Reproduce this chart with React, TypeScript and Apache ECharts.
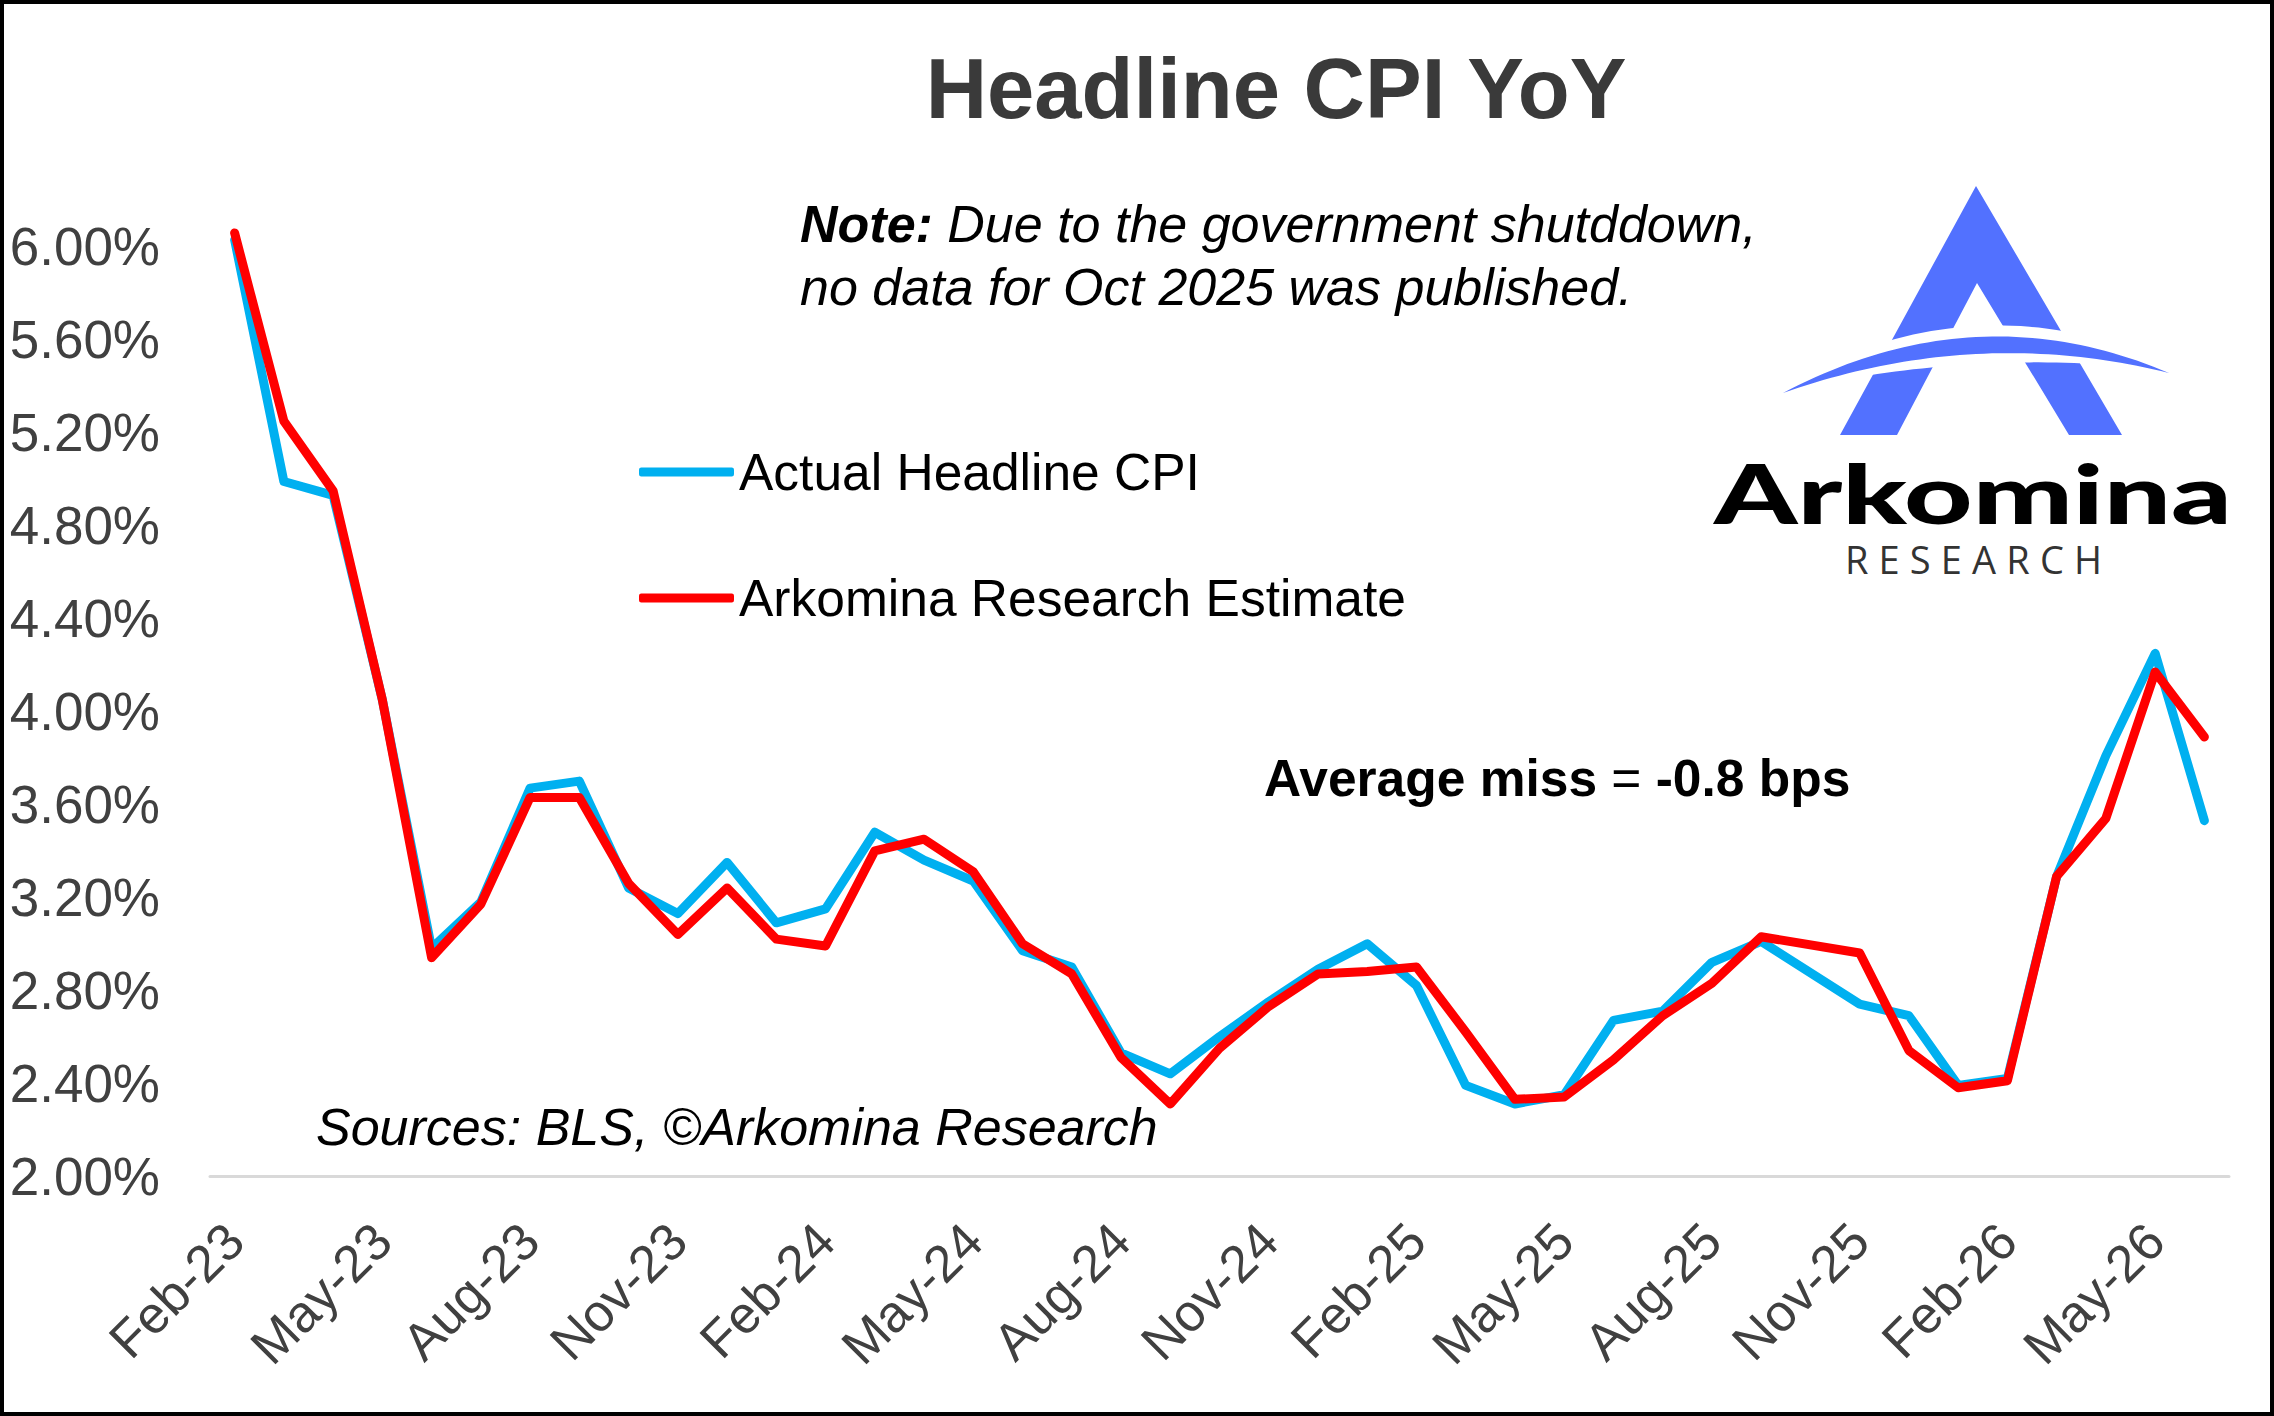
import React, { useEffect, useRef } from 'react';
import * as echarts from 'echarts';

const categories = [
    'Feb-23', 'Mar-23', 'Apr-23', 'May-23', 'Jun-23', 'Jul-23', 'Aug-23', 'Sep-23', 'Oct-23', 'Nov-23', 'Dec-23',
    'Jan-24', 'Feb-24', 'Mar-24', 'Apr-24', 'May-24', 'Jun-24', 'Jul-24', 'Aug-24', 'Sep-24', 'Oct-24', 'Nov-24', 'Dec-24',
    'Jan-25', 'Feb-25', 'Mar-25', 'Apr-25', 'May-25', 'Jun-25', 'Jul-25', 'Aug-25', 'Sep-25', 'Oct-25', 'Nov-25', 'Dec-25',
    'Jan-26', 'Feb-26', 'Mar-26', 'Apr-26', 'May-26', 'Jun-26'
];

// Oct-25 was never published (shutdown), so it is null and the line bridges it
const actualCpi = [
    6.03, 4.99, 4.93, 4.05, 2.98, 3.18, 3.67, 3.70, 3.24, 3.13, 3.35,
    3.09, 3.15, 3.48, 3.36, 3.27, 2.97, 2.90, 2.53, 2.44, 2.60, 2.75, 2.89,
    3.00, 2.82, 2.39, 2.31, 2.35, 2.67, 2.71, 2.92, 3.01, null, 2.74, 2.69,
    2.39, 2.42, 3.29, 3.81, 4.25, 3.53
];

const estimateCpi = [
    6.06, 5.25, 4.95, 4.05, 2.94, 3.17, 3.63, 3.63, 3.26, 3.04, 3.24,
    3.02, 2.99, 3.40, 3.45, 3.31, 3.00, 2.87, 2.51, 2.31, 2.55, 2.73, 2.87,
    2.88, 2.90, 2.62, 2.33, 2.34, 2.50, 2.69, 2.83, 3.03, null, 2.96, 2.54,
    2.38, 2.41, 3.29, 3.54, 4.17, 3.89
];

const seriesNames = ['Actual Headline CPI', 'Arkomina Research Estimate'];
const seriesColors = ['#00B0F0', '#FF0000'];

const FONT = '"Liberation Sans", Arial, Helvetica, sans-serif';
const LOGO_BLUE = '#5271FF';

const measure = (font: string, text: string) => {
    const ctx = document.createElement('canvas').getContext('2d');
    if (!ctx) return text.length * 40;
    ctx.font = font;
    return ctx.measureText(text).width;
};

// crescent between two quadratic curves sharing the tips
const crescent = (l: number[], r: number[], midX: number, topY: number, botY: number) => {
    const baseY = (l[1] + r[1]) / 2;
    const baseX = (l[0] + r[0]) / 2;
    const q = (t: number, cx: number, cy: number) => [
        (1 - t) * (1 - t) * l[0] + 2 * (1 - t) * t * cx + t * t * r[0],
        (1 - t) * (1 - t) * l[1] + 2 * (1 - t) * t * cy + t * t * r[1]
    ];
    const topC = [2 * midX - baseX, 2 * topY - baseY];
    const botC = [2 * midX - baseX, 2 * botY - baseY];
    const pts: number[][] = [];
    for (let i = 0; i <= 48; i++) pts.push(q(i / 48, topC[0], topC[1]));
    for (let i = 48; i >= 0; i--) pts.push(q(i / 48, botC[0], botC[1]));
    return pts;
};

const buildLogo = () => {
    const items: any[] = [];
    items.push({
        type: 'polygon',
        z: 10,
        shape: {
            points: [[1976, 186], [2122, 435], [2069, 435], [1977, 283], [1897, 435], [1840, 435]]
        },
        style: { fill: LOGO_BLUE }
    });
    items.push({
        type: 'polygon',
        z: 11,
        shape: { points: crescent([1760, 398], [2190, 374], 1976, 326, 364) },
        style: { fill: '#ffffff' }
    });
    items.push({
        type: 'polygon',
        z: 12,
        shape: { points: crescent([1783, 393], [2169, 373], 1976, 337, 354) },
        style: { fill: LOGO_BLUE }
    });

    const wordFont = '900 82px Lato';
    const wordW = measure(wordFont, 'Arkomina');
    items.push({
        type: 'text',
        z: 12,
        x: 1973,
        y: 492,
        scaleX: 518 / wordW,
        style: {
            text: 'Arkomina',
            font: wordFont,
            fill: '#000000',
            align: 'center',
            verticalAlign: 'middle'
        }
    });

    const subFont = '38px "Open Sans"';
    const sub = 'RESEARCH';
    const widths = sub.split('').map(ch => measure(subFont, ch));
    const total = widths.reduce((a, b) => a + b, 0);
    const gap = (257 - total) / (sub.length - 1);
    let cx = 1845;
    sub.split('').forEach((ch, i) => {
        items.push({
            type: 'text',
            z: 12,
            x: cx,
            y: 559,
            style: {
                text: ch,
                font: subFont,
                fill: '#333333',
                align: 'left',
                verticalAlign: 'middle'
            }
        });
        cx += widths[i] + gap;
    });
    return items;
};

export default function App() {
    const chartRef = useRef<HTMLDivElement>(null);

    useEffect(() => {
        document.body.style.margin = '0';
        if (!chartRef.current) return;

        const chart = echarts.init(chartRef.current, undefined, { renderer: 'svg' });

        const option = {
            animation: false,
            backgroundColor: '#ffffff',
            title: {
                text: 'Headline CPI YoY',
                left: 1271,
                top: 33,
                textAlign: 'center',
                textStyle: {
                    fontFamily: FONT,
                    fontSize: 85,
                    fontWeight: 'bold',
                    color: '#3A3A3A',
                    lineHeight: 100
                }
            },
            legend: {
                data: seriesNames,
                orient: 'vertical',
                left: 634,
                top: 437,
                icon: 'roundRect',
                itemWidth: 95,
                itemHeight: 9,
                itemGap: 66,
                textStyle: {
                    fontFamily: FONT,
                    fontSize: 51.5,
                    color: '#000000',
                    lineHeight: 60
                }
            },
            grid: {
                left: 210,
                right: 45,
                top: 154,
                bottom: 240
            },
            xAxis: {
                type: 'category',
                data: categories,
                boundaryGap: true,
                axisLine: { lineStyle: { color: '#D9D9D9', width: 3 } },
                axisTick: { show: false },
                axisLabel: {
                    interval: 2,
                    rotate: 45,
                    fontFamily: FONT,
                    fontSize: 52,
                    color: '#404040',
                    margin: 56
                }
            },
            yAxis: {
                type: 'value',
                min: 2,
                max: 6.4,
                interval: 0.4,
                axisLine: { show: false },
                axisTick: { show: false },
                splitLine: { show: false },
                axisLabel: {
                    formatter: (value: number) => value.toFixed(2) + '%',
                    showMaxLabel: false,
                    fontFamily: FONT,
                    fontSize: 53,
                    color: '#404040',
                    margin: 50
                }
            },
            series: [
                {
                    name: seriesNames[0],
                    type: 'line',
                    data: actualCpi,
                    connectNulls: true,
                    symbol: 'none',
                    z: 2,
                    itemStyle: { color: seriesColors[0] },
                    lineStyle: { color: seriesColors[0], width: 9, cap: 'round', join: 'round' }
                },
                {
                    name: seriesNames[1],
                    type: 'line',
                    data: estimateCpi,
                    connectNulls: true,
                    symbol: 'none',
                    z: 3,
                    itemStyle: { color: seriesColors[1] },
                    lineStyle: { color: seriesColors[1], width: 9, cap: 'round', join: 'round' }
                }
            ],
            graphic: [
                {
                    type: 'rect',
                    z: 100,
                    shape: { x: 2, y: 2, width: 2270, height: 1412 },
                    style: { fill: 'none', stroke: '#000000', lineWidth: 4 }
                },
                {
                    type: 'text',
                    x: 800,
                    y: 192,
                    style: {
                        text: '{b|Note:}{i| Due to the government shutddown,}\n{i|no data for Oct 2025 was published.}',
                        align: 'left',
                        verticalAlign: 'top',
                        rich: {
                            b: { fontFamily: FONT, fontSize: 52, fontWeight: 'bold', fontStyle: 'italic', fill: '#000', lineHeight: 63 },
                            i: { fontFamily: FONT, fontSize: 52, fontStyle: 'italic', fill: '#000', lineHeight: 63 }
                        }
                    }
                },
                {
                    type: 'text',
                    x: 1264,
                    y: 778,
                    style: {
                        text: '{b|Average miss }{r|= }{b|-0.8 bps}',
                        align: 'left',
                        verticalAlign: 'middle',
                        rich: {
                            b: { fontFamily: FONT, fontSize: 51.5, fontWeight: 'bold', fill: '#000' },
                            r: { fontFamily: FONT, fontSize: 51.5, fill: '#000' }
                        }
                    }
                },
                {
                    type: 'text',
                    x: 316,
                    y: 1127,
                    style: {
                        text: 'Sources: BLS, ©Arkomina Research',
                        font: 'italic 52px ' + FONT,
                        fill: '#000000',
                        align: 'left',
                        verticalAlign: 'middle'
                    }
                },
                ...buildLogo()
            ]
        };

        chart.setOption(option);

        return () => {
            chart.dispose();
        };
    }, []);

    return <div ref={chartRef} style={{ width: 2274, height: 1416 }} />;
}
